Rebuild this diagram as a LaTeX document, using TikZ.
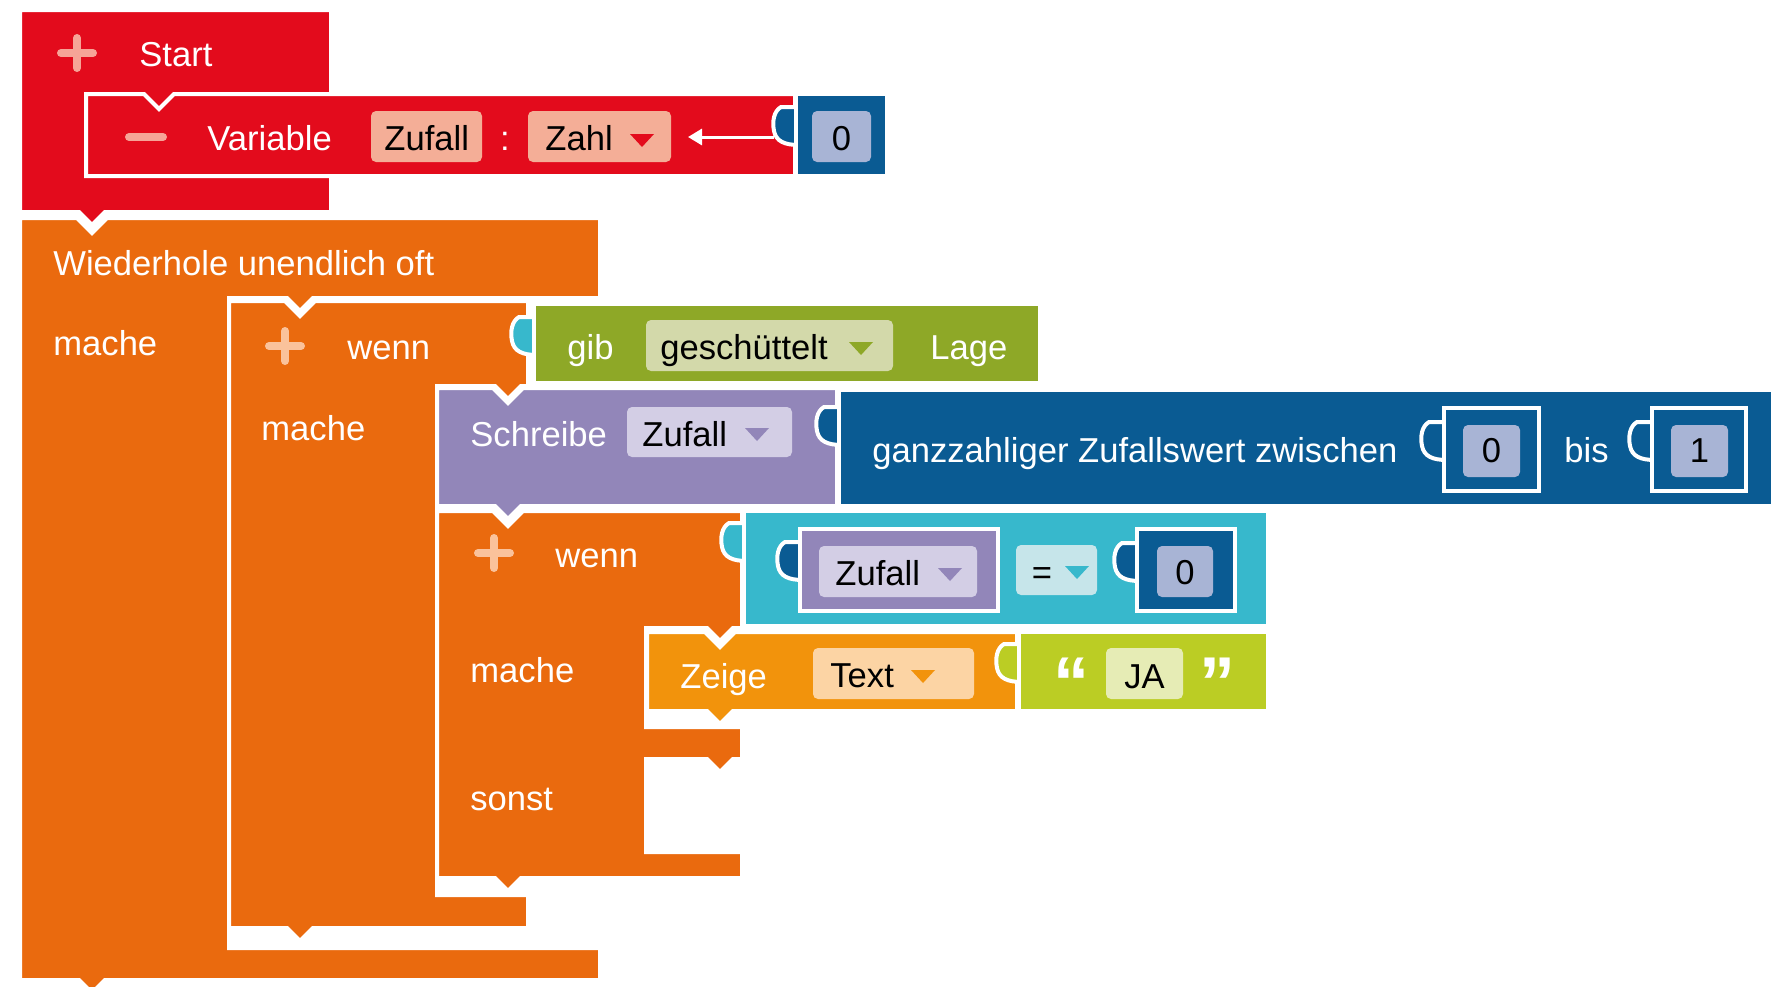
\documentclass[tikz,border=0pt]{standalone}
\usepackage{fontspec}
\setmainfont{Liberation Sans}
\usetikzlibrary{arrows.meta}

\definecolor{blkred}{HTML}{E30B1C}
\definecolor{redfield}{HTML}{F4AE97}
\definecolor{redplus}{HTML}{F6A497}
\definecolor{blkorange}{HTML}{EA6A0E}
\definecolor{orangeplus}{HTML}{FAC29B}
\definecolor{blkblue}{HTML}{0A5B93}
\definecolor{numfield}{HTML}{A8B4D5}
\definecolor{blkgreen}{HTML}{8EA827}
\definecolor{greenfield}{HTML}{D3D9AA}
\definecolor{blkpurple}{HTML}{9286B9}
\definecolor{purplefield}{HTML}{D3CEE5}
\definecolor{blkteal}{HTML}{37B8CC}
\definecolor{tealfield}{HTML}{C6E5EA}
\definecolor{showorange}{HTML}{F2930C}
\definecolor{showfield}{HTML}{FCD4A4}
\definecolor{blklime}{HTML}{BBCD24}
\definecolor{limefield}{HTML}{E6ECB5}

\newcommand{\blk}{\fontsize{17.3}{20}\selectfont}

\tikzset{
  blkpath/.style={draw=white, line width=2pt},
  wtxt/.style={anchor=base west, inner sep=0pt, text=white, font=\blk},
  btxt/.style={anchor=base west, inner sep=0pt, text=black, font=\blk},
  ctxt/.style={anchor=base, inner sep=0pt, text=black, font=\blk},
  qtxt/.style={anchor=base, inner sep=0pt, text=white, font=\fontsize{36}{36}\bfseries\selectfont},
  fieldbox/.style={rounded corners=2.5pt},
  plusline/.style={line width=4pt, line cap=round}
}

% puzzle tab on the left side of a value block: x, y, colour
\newcommand{\ptab}[3]{\filldraw[blkpath, fill=#3] (#1+3,#2) -- (#1-15,#2)
  .. controls (#1-22,#2+4) and (#1-24,#2+14) .. (#1-22,#2+24)
  .. controls (#1-20,#2+34) and (#1-12,#2+38) .. (#1+3,#2+38) -- cycle;}
% dropdown triangle: x, y, colour
\newcommand{\ddtri}[3]{\fill[#3] (#1-12,#2-6) -- (#1+12,#2-6) -- (#1,#2+7) -- cycle;}
% plus sign: x, y, colour
\newcommand{\plussign}[3]{\draw[plusline, #3] (#1-16,#2) -- (#1+16,#2) (#1,#2-15) -- (#1,#2+15);}

\begin{document}
\begin{tikzpicture}[x=0.5pt, y=-0.5pt]
\useasboundingbox (0,0) rectangle (1776,986);
\clip (0,0) rectangle (1776,986);

% Start
\filldraw[blkpath, fill=blkred] (20,10) -- (331,10) -- (331,212) -- (105,212) -- (92,225) -- (79,212) -- (20,212) -- cycle;
\plussign{77}{53}{redplus}
\node[wtxt] (start) at (139,66) {Start};

% Variable
\filldraw[blkpath, fill=blkred] (86,94) -- (144,94) -- (159,109) -- (174,94) -- (795,94) -- (795,176) -- (86,176) -- cycle;
\draw[plusline, redplus] (129,137) -- (163,137);
\node[wtxt] (var) at (207,150) {Variable};
\fill[fieldbox, redfield] (371,111) rectangle (482,162);
\node[btxt] (varname) at (384,150) {Zufall};
\node[wtxt, anchor=base] (colon) at (505,150) {:};
\fill[fieldbox, redfield] (528,111) rectangle (671,162);
\node[btxt] (vartype) at (545,150) {Zahl};
\ddtri{642}{140}{blkred}
\ptab{796}{107}{blkblue}
\filldraw[blkpath, fill=blkblue] (796,94) rectangle (887,176);
\fill[fieldbox, numfield] (812,111) rectangle (871,162);
\node[ctxt] (varval) at (841.5,150) {0};
\draw[white, line width=1.5pt, -{Triangle[length=7pt, width=8pt]}] (varval.west |- 0,137) ++(-57,0) -- (688,137);

% Wiederhole unendlich oft
\filldraw[blkpath, fill=blkorange] (20,218) -- (77,218) -- (92,233) -- (107,218) -- (600,218) -- (600,298)
  -- (313,298) -- (300,311) -- (287,298) -- (229,298) -- (229,948) -- (600,948) -- (600,980)
  -- (105,980) -- (92,993) -- (79,980) -- (20,980) -- cycle;
\node[wtxt] (loop) at (53,275) {Wiederhole unendlich oft};
\node[wtxt] (loopdo) at (53,355) {mache};

% wenn
\filldraw[blkpath, fill=blkorange] (229,301) -- (285,301) -- (300,316) -- (315,301) -- (528,301) -- (528,386)
  -- (521,386) -- (508,399) -- (495,386) -- (437,386) -- (437,895) -- (528,895) -- (528,928)
  -- (313,928) -- (300,941) -- (287,928) -- (229,928) -- cycle;
\plussign{285}{346}{orangeplus}
\node[wtxt] (if) at (347,359) {wenn};
\node[wtxt] (ifdo) at (261,440) {mache};

% gib geschuettelt Lage
\ptab{534}{317}{blkteal}
\filldraw[blkpath, fill=blkgreen] (534,304) rectangle (1040,383);
\node[wtxt] (gesture) at (567,359) {gib};
\fill[fieldbox, greenfield] (646,320) rectangle (893,371);
\node[btxt] (gesturename) at (660,359) {geschüttelt};
\ddtri{861}{348}{blkgreen}
\node[wtxt] (pos) at (930,359) {Lage};

% Schreibe
\filldraw[blkpath, fill=blkpurple] (437,388) -- (493,388) -- (508,403) -- (523,388) -- (837,388) -- (837,506)
  -- (521,506) -- (508,519) -- (495,506) -- (437,506) -- cycle;
\node[wtxt] (set) at (470,446) {Schreibe};
\fill[fieldbox, purplefield] (627,407) rectangle (792,457);
\node[btxt] (setvar) at (642,446) {Zufall};
\ddtri{757}{434}{blkpurple}

% ganzzahliger Zufallswert
\ptab{839}{407}{blkblue}
\filldraw[blkpath, fill=blkblue] (839,390) rectangle (1773,506);
\node[wtxt] (rand) at (872,462) {ganzzahliger Zufallswert zwischen};
\ptab{1444}{422}{blkblue}
\filldraw[blkpath, fill=blkblue] (1444,408) rectangle (1539,491);
\fill[fieldbox, numfield] (1463,425) rectangle (1520,477);
\node[ctxt] (randfrom) at (1491.5,462) {0};
\node[wtxt] (randto) at (1564,462) {bis};
\ptab{1652}{422}{blkblue}
\filldraw[blkpath, fill=blkblue] (1652,408) rectangle (1746,491);
\fill[fieldbox, numfield] (1671,425) rectangle (1728,477);
\node[ctxt] (randmax) at (1699.5,462) {1};

% wenn ... sonst
\filldraw[blkpath, fill=blkorange] (437,511) -- (493,511) -- (508,526) -- (523,511) -- (742,511) -- (742,628)
  -- (733,628) -- (720,641) -- (707,628) -- (646,628) -- (646,727) -- (742,727) -- (742,759)
  -- (733,759) -- (720,772) -- (707,759) -- (646,759) -- (646,852) -- (742,852) -- (742,878)
  -- (521,878) -- (508,891) -- (495,878) -- (437,878) -- cycle;
\plussign{494}{553}{orangeplus}
\node[wtxt] (ifelse) at (555,567) {wenn};
\node[wtxt] (ifelsedo) at (470,682) {mache};
\node[wtxt] (ifelseelse) at (470,810) {sonst};

% Vergleich
\ptab{744}{523}{blkteal}
\filldraw[blkpath, fill=blkteal] (744,511) rectangle (1268,626);
\ptab{800}{542}{blkblue}
\filldraw[blkpath, fill=blkpurple] (800,529) rectangle (998,611);
\fill[fieldbox, purplefield] (819,546) rectangle (977,597);
\node[btxt] (getvar) at (835,585) {Zufall};
\ddtri{950}{574}{blkpurple}
\fill[fieldbox, tealfield] (1016,545) rectangle (1097,595);
\node[ctxt] (op) at (1042,584) {=};
\ddtri{1077}{572}{blkteal}
\ptab{1137}{543}{blkblue}
\filldraw[blkpath, fill=blkblue] (1137,529) rectangle (1235,611);
\fill[fieldbox, numfield] (1157,546) rectangle (1213,597);
\node[ctxt] (cmpval) at (1185,584) {0};

% Zeige Text
\filldraw[blkpath, fill=showorange] (647,632) -- (705,632) -- (720,647) -- (735,632) -- (1017,632) -- (1017,711)
  -- (733,711) -- (720,724) -- (707,711) -- (647,711) -- cycle;
\node[wtxt] (show) at (680,688) {Zeige};
\fill[fieldbox, showfield] (813,648) rectangle (974,699);
\node[btxt] (showtype) at (830,687) {Text};
\ddtri{923}{676}{showorange}
\ptab{1019}{644}{blklime}
\filldraw[blkpath, fill=blklime] (1019,632) rectangle (1268,711);
\fill[fieldbox, limefield] (1106,648) rectangle (1183,699);
\node[ctxt] (txt) at (1144.5,688) {JA};
\node[qtxt] (qopen) at (1071,707) {“};
\node[qtxt] (qclose) at (1217,707) {”};

\end{tikzpicture}
\end{document}
